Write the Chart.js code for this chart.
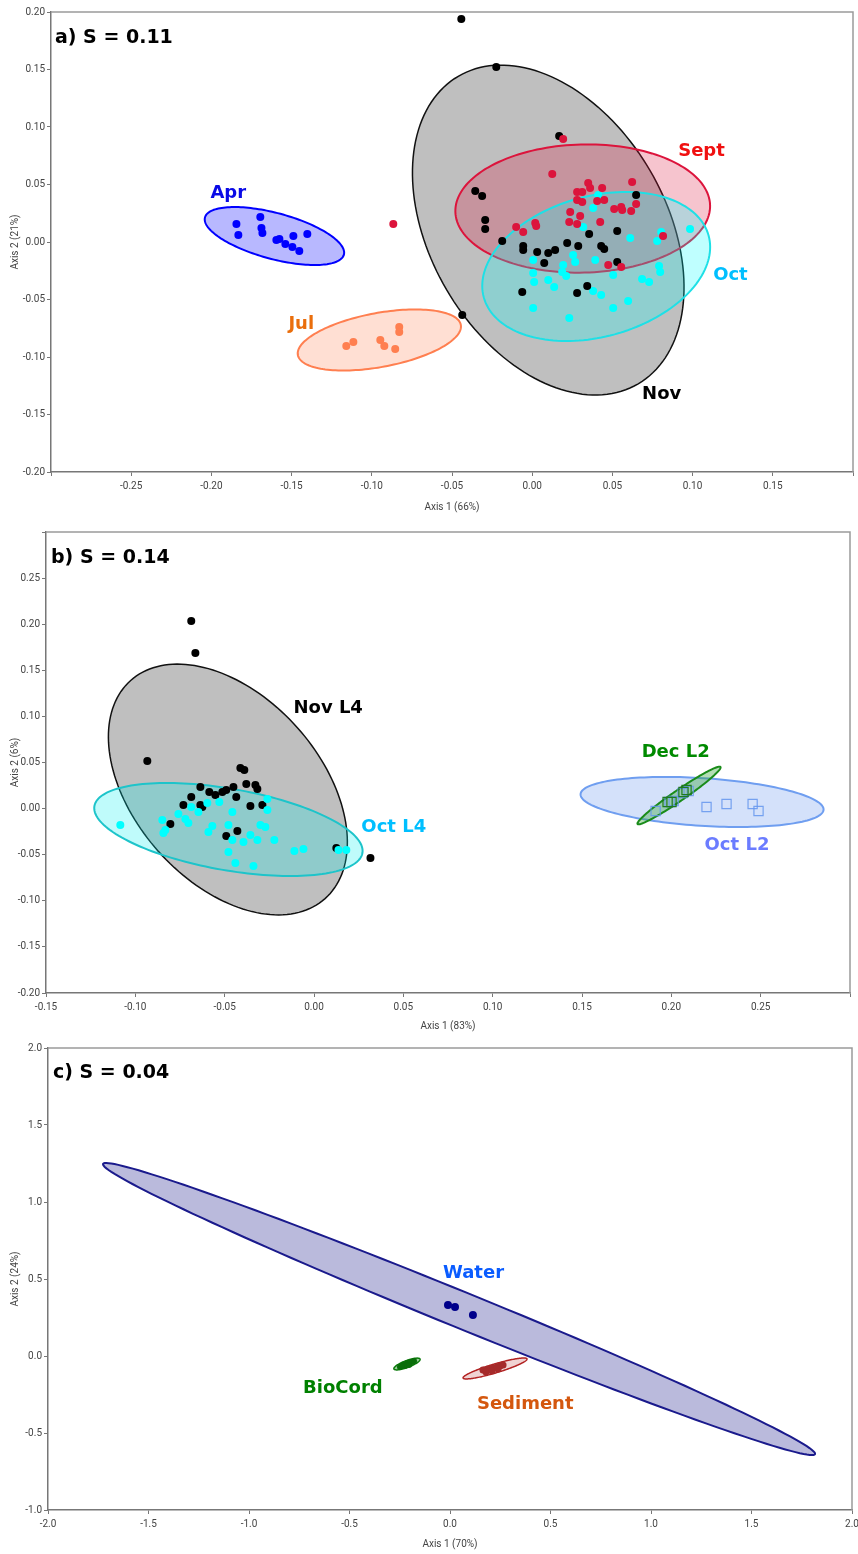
<!DOCTYPE html>
<html>
<head>
<meta charset="utf-8">
<script src="https://cdn.jsdelivr.net/npm/chart.js@4.4.0/dist/chart.umd.min.js"></script>
<style>
  body { margin: 0; background: #fff; }
  #wrap { position: relative; width: 858px; height: 1554px; }
  canvas { position: absolute; left: 0; }
</style>
</head>
<body>
<div id="wrap">
  <canvas id="chartA" width="858" height="520" style="top:0"></canvas>
  <canvas id="chartB" width="858" height="515" style="top:520px"></canvas>
  <canvas id="chartC" width="858" height="519" style="top:1035px"></canvas>
</div>
<script>
// ---- panel a: sampling months ----
const aprPoints = [[-0.1844,0.0157],[-0.1832,0.0061],[-0.1695,0.0217],[-0.1688,0.0122],[-0.1682,0.0078],[-0.1595,0.0017],[-0.1576,0.0026],[-0.1539,-0.0017],[-0.1489,0.0052],[-0.1495,-0.0043],[-0.1452,-0.0078],[-0.1402,0.0070]];
const julPoints = [[-0.1159,-0.0904],[-0.1115,-0.0870],[-0.0947,-0.0852],[-0.0922,-0.0904],[-0.0854,-0.0930],[-0.0829,-0.0739],[-0.0829,-0.0783]];
const septPoints = [[-0.0866,0.0157],[0.0193,0.0896],[0.0125,0.0591],[-0.0100,0.0130],[-0.0056,0.0087],[0.0019,0.0165],[0.0025,0.0139],[0.0280,0.0435],[0.0312,0.0435],[0.0349,0.0513],[0.0361,0.0470],[0.0436,0.0470],[0.0280,0.0365],[0.0312,0.0348],[0.0405,0.0357],[0.0449,0.0365],[0.0237,0.0261],[0.0231,0.0174],[0.0299,0.0226],[0.0280,0.0157],[0.0424,0.0174],[0.0511,0.0287],[0.0555,0.0304],[0.0561,0.0278],[0.0617,0.0270],[0.0648,0.0330],[0.0623,0.0522],[0.0816,0.0052],[0.0474,-0.0200],[0.0555,-0.0217]];
const octPoints = [[0.0411,0.0409],[0.0380,0.0296],[0.0318,0.0130],[0.0611,0.0035],[0.0779,0.0009],[0.0804,0.0087],[0.0984,0.0113],[0.0255,-0.0113],[0.0393,-0.0157],[0.0006,-0.0157],[0.0006,-0.0270],[0.0012,-0.0348],[0.0100,-0.0330],[0.0137,-0.0391],[0.0193,-0.0200],[0.0187,-0.0261],[0.0212,-0.0296],[0.0268,-0.0174],[0.0380,-0.0426],[0.0430,-0.0461],[0.0505,-0.0287],[0.0505,-0.0574],[0.0598,-0.0513],[0.0685,-0.0322],[0.0729,-0.0348],[0.0791,-0.0209],[0.0798,-0.0261],[0.0006,-0.0574],[0.0231,-0.0661]];
const novPoints = [[-0.0442,0.1939],[-0.0224,0.1522],[0.0168,0.0922],[-0.0355,0.0443],[-0.0312,0.0400],[-0.0293,0.0191],[-0.0293,0.0113],[0.0648,0.0409],[-0.0187,0.0009],[-0.0056,-0.0035],[-0.0056,-0.0070],[0.0100,-0.0096],[0.0143,-0.0070],[0.0218,-0.0009],[0.0287,-0.0035],[0.0355,0.0070],[0.0430,-0.0035],[0.0449,-0.0061],[0.0530,0.0096],[0.0075,-0.0183],[0.0530,-0.0174],[-0.0062,-0.0435],[0.0280,-0.0443],[0.0343,-0.0383],[-0.0436,-0.0635],[0.0031,-0.0087]];

// confidence ellipses: centre plus the two half-axis vectors, in axis units
const aprEllipse = { c: [-0.1607, 0.0052], u: [0.0433, -0.0162], v: [-0.0037, -0.0193] };
const julEllipse = { c: [-0.0953, -0.0852], u: [0.0508, 0.0131], v: [0.0031, -0.0231] };
const novEllipse = { c: [0.0100, 0.0104], u: [0.0561, -0.1337], v: [-0.0634, -0.0519] };
const septEllipse = { c: [0.0315, 0.0291], u: [0.0794, 0.0029], v: [0.0011, -0.0557] };
const octEllipse = { c: [0.0399, -0.0213], u: [0.0701, 0.0268], v: [0.0115, -0.0590] };

// ---- panel b: locations L4 / L2 ----
const novL4Points = [[-0.0687,0.2034],[-0.0664,0.1687],[-0.0933,0.0516],[-0.0412,0.0440],[-0.0390,0.0419],[-0.0379,0.0267],[-0.0328,0.0256],[-0.0317,0.0213],[-0.0636,0.0234],[-0.0687,0.0126],[-0.0586,0.0180],[-0.0552,0.0147],[-0.0513,0.0180],[-0.0491,0.0202],[-0.0451,0.0234],[-0.0435,0.0126],[-0.0731,0.0039],[-0.0636,0.0039],[-0.0625,0.0017],[-0.0356,0.0028],[-0.0289,0.0039],[-0.0804,-0.0167],[-0.0491,-0.0297],[-0.0429,-0.0243],[0.0125,-0.0427],[0.0316,-0.0536]];
const octL4Points = [[-0.1084,-0.0178],[-0.0849,-0.0124],[-0.0843,-0.0265],[-0.0832,-0.0232],[-0.0759,-0.0059],[-0.0720,-0.0113],[-0.0703,-0.0156],[-0.0687,0.0017],[-0.0647,-0.0037],[-0.0597,0.0061],[-0.0530,0.0072],[-0.0457,-0.0037],[-0.0479,-0.0178],[-0.0569,-0.0189],[-0.0591,-0.0254],[-0.0457,-0.0340],[-0.0395,-0.0362],[-0.0356,-0.0286],[-0.0317,-0.0340],[-0.0479,-0.0471],[-0.0440,-0.0590],[-0.0339,-0.0622],[-0.0300,-0.0178],[-0.0272,-0.0200],[-0.0261,-0.0015],[-0.0261,0.0104],[-0.0222,-0.0340],[-0.0110,-0.0459],[-0.0059,-0.0438],[0.0137,-0.0449],[0.0181,-0.0449]];
const octL2Points = [[0.1912,-0.0026],[0.1990,0.0072],[0.2013,0.0082],[0.2063,0.0169],[0.2097,0.0191],[0.2197,0.0017],[0.2309,0.0050],[0.2455,0.0050],[0.2488,-0.0026]];
const decL2Points = [[0.1979,0.0072],[0.2001,0.0072],[0.2068,0.0180],[0.2085,0.0202]];

const novL4Ellipse = { c: [-0.0482, 0.0207], u: [0.0544, -0.1183], v: [-0.0389, -0.0671] };
const octL4Ellipse = { c: [-0.0479, -0.0227], u: [0.0750, -0.0255], v: [-0.0039, -0.0435] };
const octL2Ellipse = { c: [0.2172, 0.0072], u: [0.0680, -0.0085], v: [-0.0009, -0.0258] };
const decL2Ellipse = { c: [0.2043, 0.0142], u: [0.0232, 0.0309], v: [0.0017, -0.0049] };

// ---- panel c: sample type ----
const waterPoints = [[-0.010,0.331],[0.025,0.318],[0.114,0.266]];
const bioCordPoints = [[-0.249,-0.071],[-0.234,-0.058],[-0.219,-0.052],[-0.209,-0.045],[-0.199,-0.039],[-0.189,-0.039],[-0.224,-0.065],[-0.204,-0.058],[-0.179,-0.032],[-0.239,-0.065]];
const sedimentPoints = [[0.164,-0.091],[0.189,-0.084],[0.214,-0.078],[0.234,-0.071],[0.249,-0.065],[0.264,-0.058],[0.179,-0.104],[0.209,-0.097],[0.239,-0.084]];

const waterEllipse = { c: [0.045, 0.305], u: [1.771, -0.942], v: [-0.034, -0.108] };
const bioCordEllipse = { c: [-0.214, -0.052], u: [0.065, 0.032], v: [0.006, -0.021] };
const sedimentEllipse = { c: [0.224, -0.081], u: [0.159, 0.062], v: [0.006, -0.028] };

// group labels: text, x, y (axis units, left/baseline anchor)
const labelsA = [['Apr', -0.2006, 0.0383], ['Sept', 0.0910, 0.0748], ['Oct', 0.1128, -0.0330], ['Nov', 0.0685, -0.1365], ['Jul', -0.1520, -0.0757]];
const labelsB = [['Nov L4', -0.0115, 0.1037], ['Oct L4', 0.0265, -0.0254], ['Dec L2', 0.1834, 0.0560], ['Oct L2', 0.2186, -0.0449]];
const labelsC = [['Water', -0.035, 0.506], ['BioCord', -0.731, -0.240], ['Sediment', 0.134, -0.344]];

const toXY = pts => pts.map(p => ({ x: p[0], y: p[1] }));

function panelPlugin(p) {
  return {
    id: 'panelDecor',
    beforeDatasetsDraw(chart) {
      const { ctx, chartArea: a, scales: { x, y } } = chart;
      ctx.save();
      ctx.beginPath();
      ctx.rect(a.left, a.top, a.right - a.left, a.bottom - a.top);
      ctx.clip();
      p.ellipses.forEach(e => {
        ctx.beginPath();
        for (let i = 0; i <= 160; i++) {
          const t = (i / 160) * Math.PI * 2;
          const c = Math.cos(t), s = Math.sin(t);
          const px = x.getPixelForValue(e.shape.c[0] + e.shape.u[0] * c + e.shape.v[0] * s);
          const py = y.getPixelForValue(e.shape.c[1] + e.shape.u[1] * c + e.shape.v[1] * s);
          if (i === 0) ctx.moveTo(px, py); else ctx.lineTo(px, py);
        }
        ctx.closePath();
        ctx.fillStyle = e.fill;
        ctx.fill();
        ctx.lineWidth = e.lineWidth;
        ctx.strokeStyle = e.stroke;
        ctx.stroke();
      });
      ctx.restore();
    },
    afterDraw(chart) {
      const { ctx, chartArea: a, scales: { x, y } } = chart;
      ctx.save();
      // frame on the top and right
      ctx.strokeStyle = '#9a9a9a';
      ctx.lineWidth = 1.5;
      ctx.beginPath();
      ctx.moveTo(a.left, a.top);
      ctx.lineTo(a.right, a.top);
      ctx.lineTo(a.right, a.bottom);
      ctx.stroke();

      // group labels
      ctx.font = 'bold 18px "DejaVu Sans"';
      ctx.textAlign = 'left';
      ctx.textBaseline = 'alphabetic';
      p.labels.forEach((l, i) => {
        ctx.fillStyle = p.labelColors[i];
        ctx.fillText(l[0], x.getPixelForValue(l[1]), y.getPixelForValue(l[2]));
      });

      // panel title
      ctx.font = 'bold 19px "DejaVu Sans"';
      ctx.fillStyle = '#000';
      ctx.fillText(p.title, a.left + p.titleOffset[0], a.top + p.titleOffset[1]);

      // axis titles
      ctx.font = '10px Roboto';
      ctx.fillStyle = '#444';
      ctx.textAlign = 'center';
      ctx.textBaseline = 'middle';
      ctx.fillText(p.xTitle, (a.left + a.right) / 2, a.bottom + p.xTitleGap);
      ctx.translate(15, (a.top + a.bottom) / 2);
      ctx.rotate(-Math.PI / 2);
      ctx.fillText(p.yTitle, 0, 0);
      ctx.restore();
    }
  };
}

function axis(cfg, isX) {
  const near = (a, b) => Math.abs(a - b) < 1e-9;
  return {
    type: 'linear',
    position: isX ? 'bottom' : 'left',
    min: cfg.min,
    max: cfg.max,
    ticks: {
      stepSize: cfg.step,
      padding: isX ? 4 : 2,
      color: '#444',
      font: { family: 'Roboto', size: 10 },
      maxRotation: 0,
      autoSkip: false,
      callback: v => cfg.hide.some(h => near(h, v)) ? '' : Number(v).toFixed(cfg.digits)
    },
    grid: { display: true, drawOnChartArea: false, drawTicks: true, tickLength: 4, color: '#777', lineWidth: 1 },
    border: { display: true, color: '#777', width: 1.5 },
    afterFit: scale => {
      if (isX) scale.height = cfg.size; else scale.width = cfg.size;
      scale.paddingLeft = 0; scale.paddingRight = 0;
      scale.paddingTop = 0; scale.paddingBottom = 0;
    }
  };
}

function makePanel(id, p) {
  return new Chart(document.getElementById(id), {
    type: 'scatter',
    data: { datasets: p.datasets },
    options: {
      responsive: false,
      animation: false,
      layout: { padding: p.padding },
      plugins: { legend: { display: false }, tooltip: { enabled: false } },
      scales: { x: axis(p.x, true), y: axis(p.y, false) }
    },
    plugins: [panelPlugin(p)]
  });
}

function dots(pts, color, r) {
  return { data: toXY(pts), backgroundColor: color, borderColor: color, pointRadius: r, pointBorderWidth: 0, pointHoverRadius: r };
}
function squares(pts, color) {
  return { data: toXY(pts), pointStyle: 'rect', backgroundColor: 'rgba(0,0,0,0)', borderColor: color, pointRadius: 6.5, pointBorderWidth: 1.2, pointHoverRadius: 6.5 };
}

makePanel('chartA', {
  padding: { top: 12, right: 5, left: 0, bottom: 0 },
  x: { min: -0.30, max: 0.20, step: 0.05, digits: 2, hide: [-0.30, 0.20], size: 48 },
  y: { min: -0.20, max: 0.20, step: 0.05, digits: 2, hide: [], size: 51 },
  datasets: [
    dots(septPoints, '#dc143c', 4),
    dots(novPoints, '#000000', 4),
    dots(octPoints, '#00ffff', 4),
    dots(aprPoints, '#0000ff', 4),
    dots(julPoints, '#ff7f50', 4)
  ],
  ellipses: [
    { shape: novEllipse, fill: 'rgba(0,0,0,0.25)', stroke: '#111', lineWidth: 1.5 },
    { shape: septEllipse, fill: 'rgba(220,20,60,0.25)', stroke: '#dc143c', lineWidth: 2 },
    { shape: octEllipse, fill: 'rgba(0,255,255,0.25)', stroke: '#1ee0e6', lineWidth: 2 },
    { shape: aprEllipse, fill: 'rgba(0,0,255,0.28)', stroke: '#0000ff', lineWidth: 2 },
    { shape: julEllipse, fill: 'rgba(255,127,80,0.25)', stroke: '#ff7f50', lineWidth: 2 }
  ],
  labels: labelsA,
  labelColors: ['#0a0ae6', '#f01010', '#00bfff', '#000000', '#ea6e0c'],
  title: 'a) S = 0.11',
  titleOffset: [4, 31],
  xTitle: 'Axis 1 (66%)', yTitle: 'Axis 2 (21%)', xTitleGap: 35
});

makePanel('chartB', {
  padding: { top: 12, right: 8, left: 0, bottom: 0 },
  x: { min: -0.15, max: 0.30, step: 0.05, digits: 2, hide: [0.30], size: 42 },
  y: { min: -0.20, max: 0.30, step: 0.05, digits: 2, hide: [0.30], size: 46 },
  datasets: [
    dots(octL4Points, '#00ffff', 4),
    dots(novL4Points, '#000000', 4),
    squares(decL2Points, '#1e7a1e'),
    squares(octL2Points, 'rgba(100,149,237,0.85)')
  ],
  ellipses: [
    { shape: novL4Ellipse, fill: 'rgba(0,0,0,0.25)', stroke: '#111', lineWidth: 1.5 },
    { shape: octL4Ellipse, fill: 'rgba(0,240,240,0.25)', stroke: '#1dc4ca', lineWidth: 2 },
    { shape: octL2Ellipse, fill: 'rgba(100,149,237,0.28)', stroke: '#6f9ef0', lineWidth: 2 },
    { shape: decL2Ellipse, fill: 'rgba(40,160,40,0.35)', stroke: '#1a8c1a', lineWidth: 2 }
  ],
  labels: labelsB,
  labelColors: ['#000000', '#00bfff', '#008a00', '#6b7cff'],
  title: 'b) S = 0.14',
  titleOffset: [5, 31],
  xTitle: 'Axis 1 (83%)', yTitle: 'Axis 2 (6%)', xTitleGap: 33
});

makePanel('chartC', {
  padding: { top: 13, right: 6, left: 0, bottom: 0 },
  x: { min: -2.0, max: 2.0, step: 0.5, digits: 1, hide: [], size: 44 },
  y: { min: -1.0, max: 2.0, step: 0.5, digits: 1, hide: [], size: 48 },
  datasets: [
    dots(waterPoints, '#00008b', 4),
    dots(bioCordPoints, '#0a6e0a', 3),
    dots(sedimentPoints, '#a52a2a', 3.5)
  ],
  ellipses: [
    { shape: waterEllipse, fill: 'rgba(26,26,140,0.3)', stroke: '#1a1a8c', lineWidth: 2 },
    { shape: bioCordEllipse, fill: 'rgba(0,128,0,0.4)', stroke: '#0a7a0a', lineWidth: 1.5 },
    { shape: sedimentEllipse, fill: 'rgba(178,34,34,0.2)', stroke: '#b22222', lineWidth: 1.5 }
  ],
  labels: labelsC,
  labelColors: ['#0a5cff', '#008000', '#d4570e'],
  title: 'c) S = 0.04',
  titleOffset: [5, 30],
  xTitle: 'Axis 1 (70%)', yTitle: 'Axis 2 (24%)', xTitleGap: 34
});
</script>
</body>
</html>
